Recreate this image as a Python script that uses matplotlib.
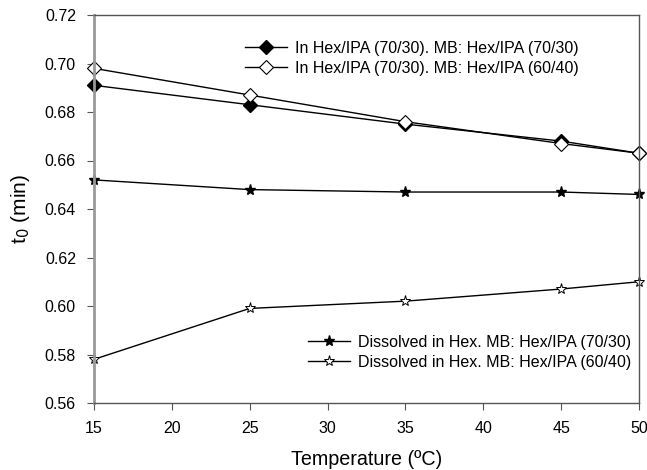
import matplotlib
matplotlib.use("Agg")
import matplotlib.pyplot as plt

plt.rcParams['font.family'] = ['Liberation Sans', 'DejaVu Sans']

temps = [15, 25, 35, 45, 50]
hex_ipa_7030 = [0.691, 0.683, 0.675, 0.668, 0.663]
hex_ipa_6040 = [0.698, 0.687, 0.676, 0.667, 0.663]
dis_7030 = [0.652, 0.648, 0.647, 0.647, 0.646]
dis_6040 = [0.578, 0.599, 0.602, 0.607, 0.610]

labels = [
    "In Hex/IPA (70/30). MB: Hex/IPA (70/30)",
    "In Hex/IPA (70/30). MB: Hex/IPA (60/40)",
    "Dissolved in Hex. MB: Hex/IPA (70/30)",
    "Dissolved in Hex. MB: Hex/IPA (60/40)",
]
xticks = [15, 20, 25, 30, 35, 40, 45, 50]
yticks = [0.56, 0.58, 0.60, 0.62, 0.64, 0.66, 0.68, 0.70, 0.72]

W, H = 647, 470
fig = plt.figure(figsize=(W/100, H/100), dpi=100)
ax = fig.add_axes([94/W, 1 - 403/H, (639-94)/W, (403-15)/H])

l1, = ax.plot(temps, hex_ipa_7030, color='black', lw=1.0, marker='D', ms=7,
              mfc='black', mec='black', label=labels[0])
l2, = ax.plot(temps, hex_ipa_6040, color='black', lw=1.0, marker='D', ms=7,
              mfc='white', mec='black', mew=0.8, label=labels[1])
l3, = ax.plot(temps, dis_7030, color='black', lw=1.0, marker='*', ms=8,
              mfc='black', mec='black', label=labels[2])
l4, = ax.plot(temps, dis_6040, color='black', lw=1.0, marker='*', ms=8,
              mfc='white', mec='black', mew=0.7, label=labels[3])
for l in (l1, l2, l3, l4):
    l.set_clip_on(False)

ax.set_xlim(15, 50)
ax.set_ylim(0.56, 0.72)
ax.set_xticks(xticks)
ax.set_yticks(yticks)
ax.set_xticklabels([str(t) for t in xticks])
ax.set_yticklabels([f"{v:.2f}" for v in yticks])
ax.tick_params(direction='out', length=5, labelsize=11.5, color='#555555')
ax.tick_params(axis='x', pad=8)
ax.tick_params(axis='y', pad=8)
for s in ax.spines.values():
    s.set_color('#555555')
    s.set_linewidth(1.0)
ax.spines['left'].set_color('#999999')
ax.spines['left'].set_linewidth(2.0)

ax.set_xlabel("Temperature (ºC)", fontsize=14.2, labelpad=10)
ax.set_ylabel("t$_0$ (min)", fontsize=15, labelpad=9)

leg1 = ax.legend(handles=[l1, l2], loc='upper left',
                 bbox_to_anchor=(245/W, 1 - 41/H), bbox_transform=fig.transFigure,
                 frameon=False, fontsize=11.5, handlelength=2.6, handletextpad=0.5,
                 labelspacing=0.3, borderpad=0, borderaxespad=0)
ax.add_artist(leg1)
ax.legend(handles=[l3, l4], loc='upper left',
          bbox_to_anchor=(308/W, 1 - 335/H), bbox_transform=fig.transFigure,
          frameon=False, fontsize=11.5, handlelength=2.6, handletextpad=0.5,
          labelspacing=0.3, borderpad=0, borderaxespad=0)

fig.savefig("out.png", dpi=100)
